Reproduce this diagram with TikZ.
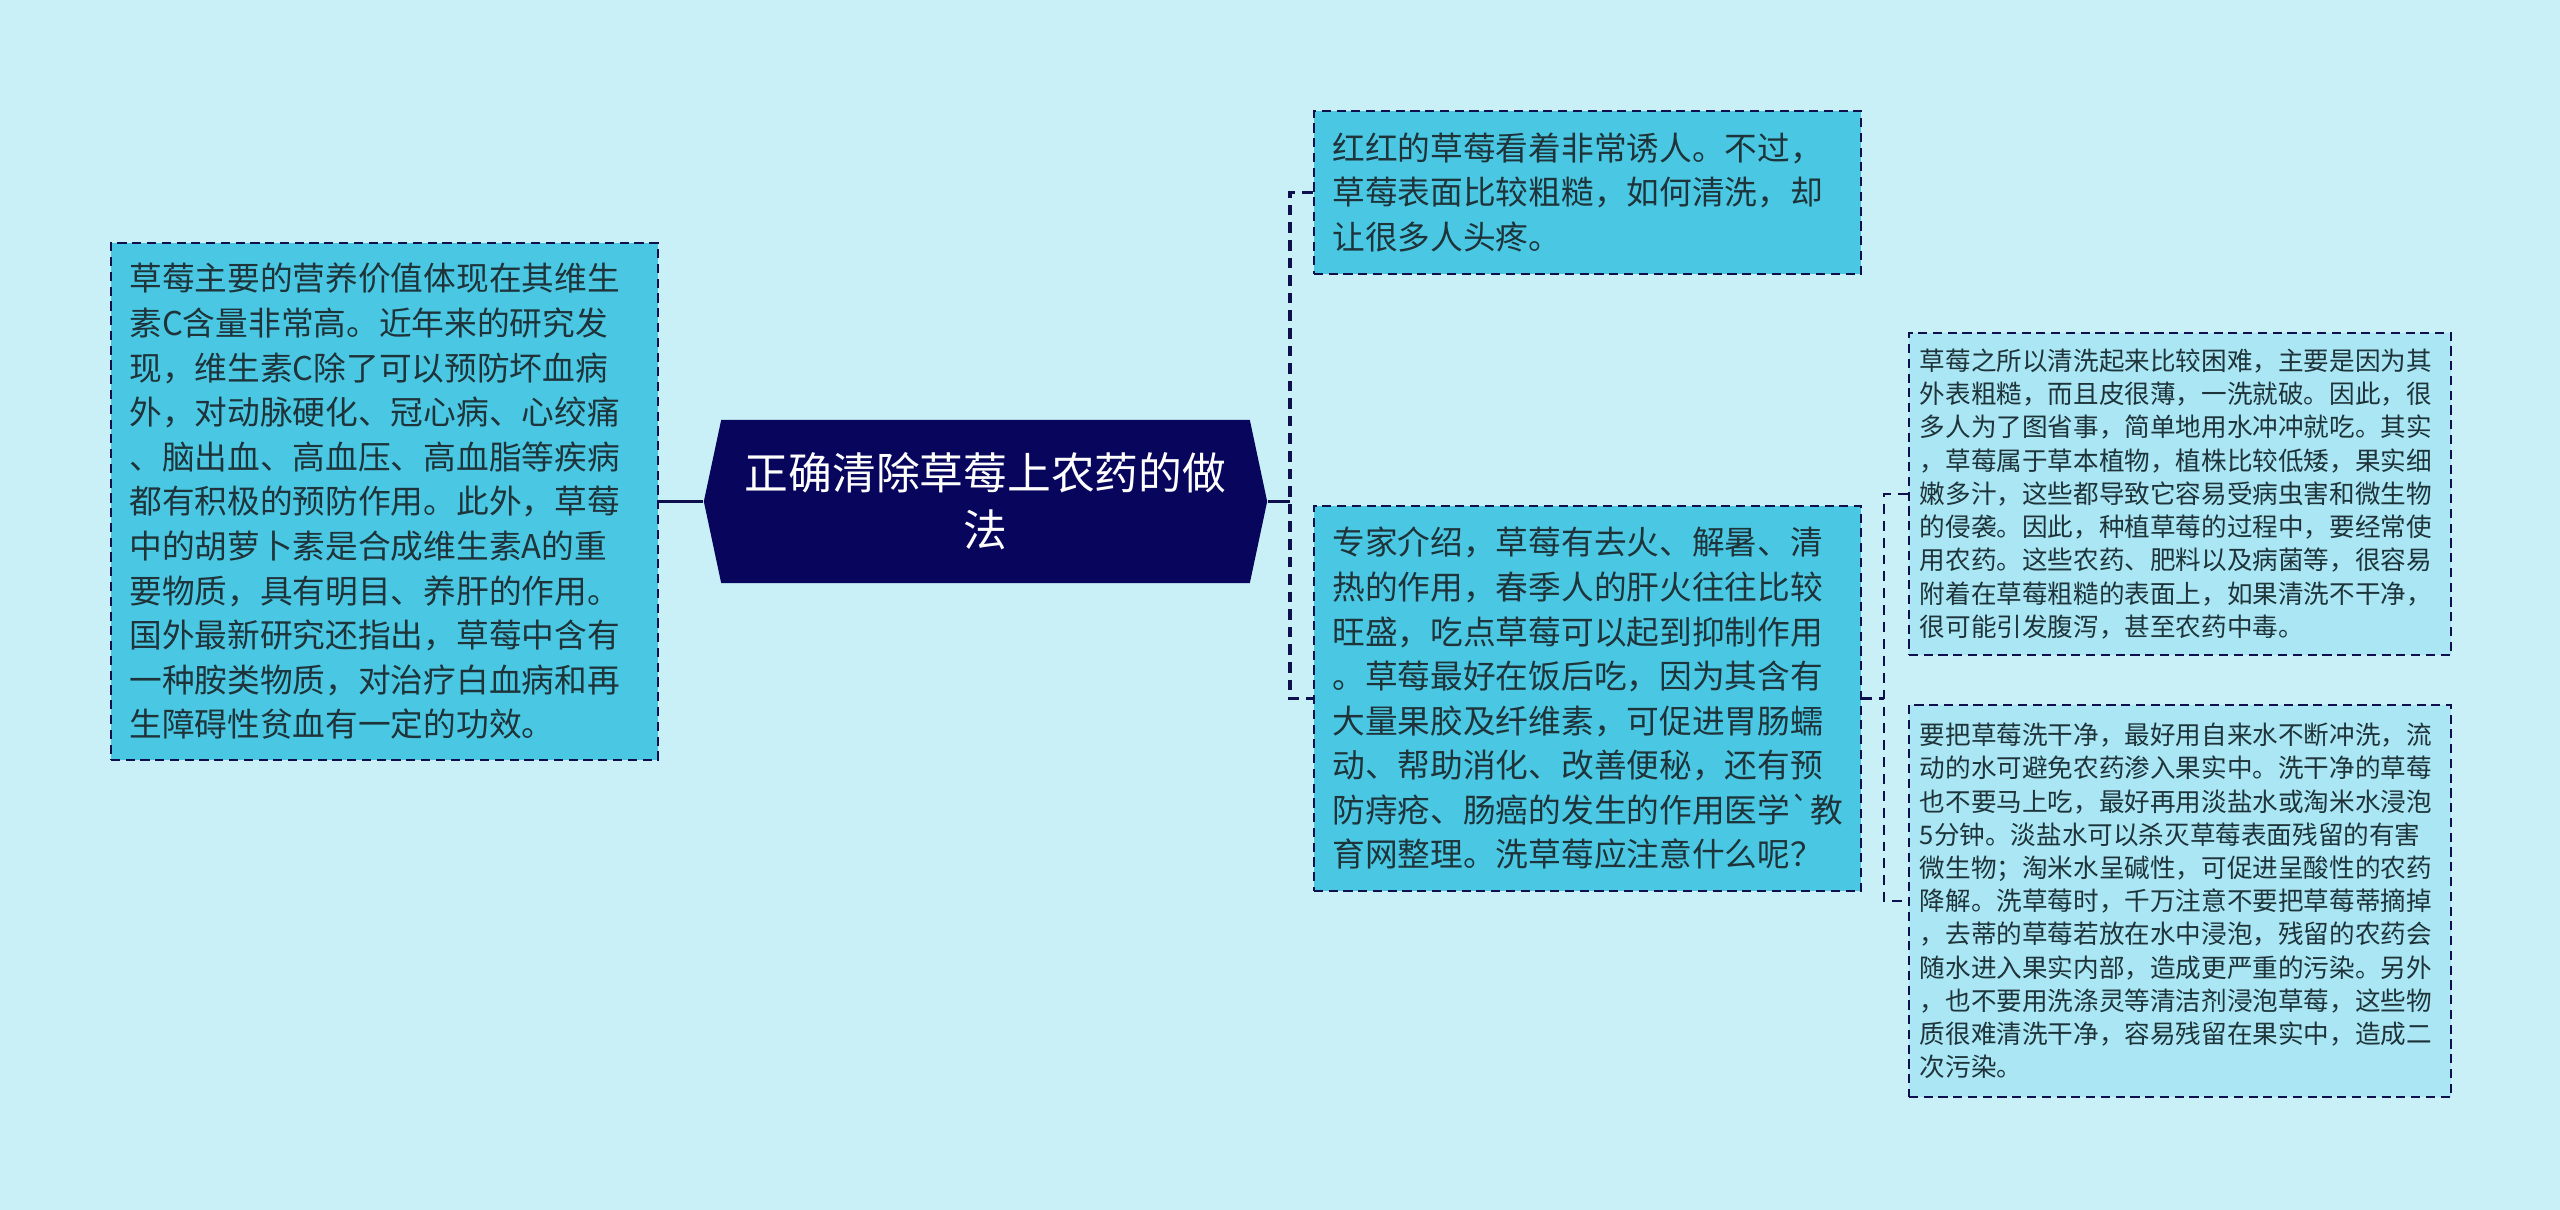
\documentclass[tikz,border=0pt]{standalone}
\usepackage{fontspec}
\usepackage{tikz}
\usetikzlibrary{shapes.symbols}
\newfontfamily\cjk{Noto Sans CJK SC}
\definecolor{bgcol}{RGB}{201,240,247}
\definecolor{rootcol}{RGB}{8,6,92}
\definecolor{midcol}{RGB}{74,200,227}
\definecolor{lightcol}{RGB}{170,230,243}
\definecolor{txtcol}{RGB}{30,52,58}
\definecolor{linecol}{RGB}{14,16,78}

\begin{document}
\begin{tikzpicture}[x=0.01cm,y=-0.01cm,
	bigbox/.style={draw=linecol,line width=0.6pt,dash pattern=on 2.6pt off 1.6pt,fill=midcol,text=txtcol,align=left,text width=5.1cm,inner xsep=0.185cm,inner ysep=0pt,font=\cjk\fontsize{9.3pt}{12.68pt}\selectfont},
	smallbox/.style={draw=linecol,line width=0.6pt,dash pattern=on 2.6pt off 1.6pt,fill=lightcol,text=txtcol,align=left,text width=5.2cm,inner xsep=0.11cm,inner ysep=0pt,font=\cjk\fontsize{7.28pt}{9.45pt}\selectfont},
	mainline/.style={draw=linecol,line width=0.9pt},
	branchline/.style={draw=linecol,line width=1pt,dash pattern=on 3pt off 2pt},
	subline/.style={draw=linecol,line width=0.7pt,dash pattern=on 2.8pt off 2pt}]
	\fill[bgcol] (0,0) rectangle (2560,1210);
	\useasboundingbox (0,0) rectangle (2560,1210);

	\node[shape=signal,signal to=east and west,signal pointer angle=156,fill=rootcol,text=white,align=center,inner sep=0pt,minimum width=5.63cm,minimum height=1.63cm,font=\cjk\fontsize{12.45pt}{16.2pt}\selectfont] (root) at (985.5,501.5) {正确清除草莓上农药的做\\法};

	\node[bigbox,minimum height=5.16cm] (nutrition) at (384.5,501.5) {草莓主要的营养价值体现在其维生\\素C含量非常高。近年来的研究发\\现，维生素C除了可以预防坏血病\\外，对动脉硬化、冠心病、心绞痛\\、脑出血、高血压、高血脂等疾病\\都有积极的预防作用。此外，草莓\\中的胡萝卜素是合成维生素A的重\\要物质，具有明目、养肝的作用。\\国外最新研究还指出，草莓中含有\\一种胺类物质，对治疗白血病和再\\生障碍性贫血有一定的功效。};

	\node[bigbox,minimum height=1.63cm] (intro) at (1587.5,192.5) {红红的草莓看着非常诱人。不过，\\草莓表面比较粗糙，如何清洗，却\\让很多人头疼。};
	\node[bigbox,minimum height=3.85cm] (expert) at (1587.5,698.5) {专家介绍，草莓有去火、解暑、清\\热的作用，春季人的肝火往往比较\\旺盛，吃点草莓可以起到抑制作用\\。草莓最好在饭后吃，因为其含有\\大量果胶及纤维素，可促进胃肠蠕\\动、帮助消化、改善便秘，还有预\\防痔疮、肠癌的发生的作用医学\textasciigrave 教\\育网整理。洗草莓应注意什么呢？};

	\node[smallbox,minimum height=3.22cm] (reason) at (2180,494) {草莓之所以清洗起来比较困难，主要是因为其\\外表粗糙，而且皮很薄，一洗就破。因此，很\\多人为了图省事，简单地用水冲冲就吃。其实\\，草莓属于草本植物，植株比较低矮，果实细\\嫩多汁，这些都导致它容易受病虫害和微生物\\的侵袭。因此，种植草莓的过程中，要经常使\\用农药。这些农药、肥料以及病菌等，很容易\\附着在草莓粗糙的表面上，如果清洗不干净，\\很可能引发腹泻，甚至农药中毒。};
	\node[smallbox,minimum height=3.92cm] (washing) at (2180,901) {要把草莓洗干净，最好用自来水不断冲洗，流\\动的水可避免农药渗入果实中。洗干净的草莓\\也不要马上吃，最好再用淡盐水或淘米水浸泡\\5分钟。淡盐水可以杀灭草莓表面残留的有害\\微生物；淘米水呈碱性，可促进呈酸性的农药\\降解。洗草莓时，千万注意不要把草莓蒂摘掉\\，去蒂的草莓若放在水中浸泡，残留的农药会\\随水进入果实内部，造成更严重的污染。另外\\，也不要用洗涤灵等清洁剂浸泡草莓，这些物\\质很难清洗干净，容易残留在果实中，造成二\\次污染。};

	\coordinate (fork1) at (1290,501.5);
	\coordinate (fork2) at (1884,698.5);
	\draw[mainline] (nutrition.east) -- (root.west);
	\draw[mainline] (root.east) -- (fork1);
	\draw[branchline] (intro.west) -| (fork1) |- (expert.west);
	\draw[subline] (expert.east) -- (fork2);
	\draw[subline] (reason.west) -| (fork2) |- (washing.west);
\end{tikzpicture}
\end{document}
